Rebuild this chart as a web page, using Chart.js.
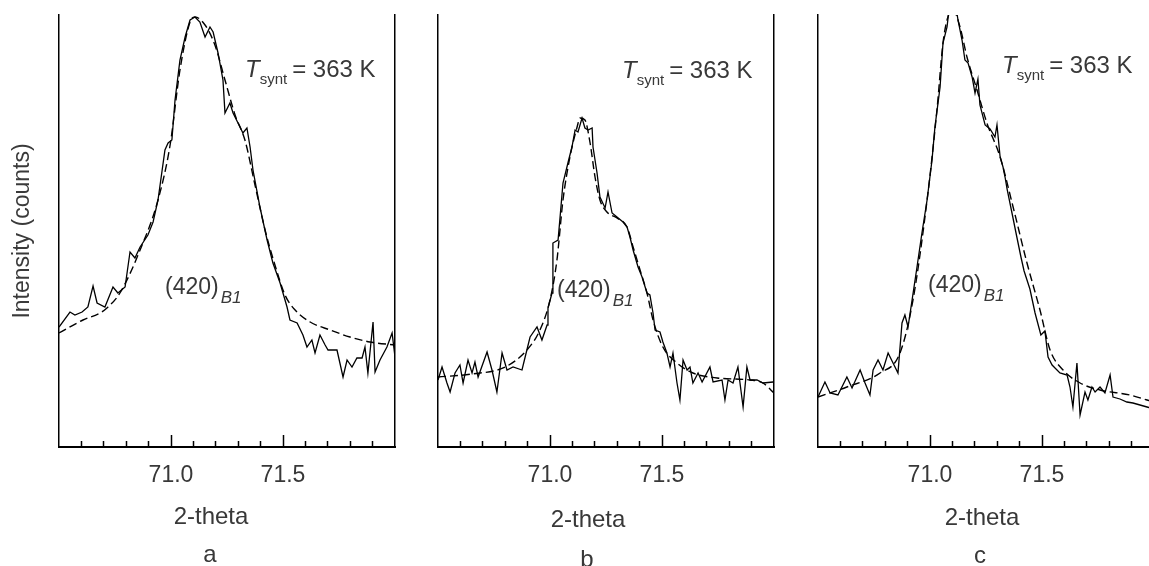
<!DOCTYPE html>
<html>
<head>
<meta charset="utf-8">
<script src="https://cdn.jsdelivr.net/npm/chart.js@4.4.1/dist/chart.umd.min.js"></script>
<style>
    html, body { margin: 0; padding: 0; background: #fff; }
    #wrap { position: relative; width: 1149px; height: 566px; overflow: hidden; }
    canvas { position: absolute; top: 0; }
    .lab {
        position: absolute;
        font-family: 'Liberation Sans', Arial, sans-serif;
        font-size: 24px;
        line-height: 24px;
        color: #383838;
        white-space: nowrap;
    }
    .sub { font-size: 15px; position: relative; top: 7px; margin-right: 5px; }
    .subi { font-size: 17px; font-style: italic; position: relative; top: 9px; margin-left: 2px; }
    .mid { transform: translateX(-50%); }
</style>
</head>
<body>
<div id="wrap">
    <canvas id="ctx_a" width="400" height="566" style="left:0px"></canvas>
    <canvas id="ctx_b" width="380" height="566" style="left:400px"></canvas>
    <canvas id="ctx_c" width="380" height="566" style="left:780px"></canvas>

    <div class="lab" style="left:245px; top:57px"><i>T</i><span class="sub">synt</span>= 363 K</div>
    <div class="lab" style="left:622px; top:58px"><i>T</i><span class="sub">synt</span>= 363 K</div>
    <div class="lab" style="left:1002px; top:53px"><i>T</i><span class="sub">synt</span>= 363 K</div>

    <div class="lab" style="left:165px; top:274px; font-size:23px">(420)<span class="subi">B1</span></div>
    <div class="lab" style="left:557px; top:277px; font-size:23px">(420)<span class="subi">B1</span></div>
    <div class="lab" style="left:928px; top:272px; font-size:23px">(420)<span class="subi">B1</span></div>

    <div class="lab mid" style="left:211px; top:504px">2-theta</div>
    <div class="lab mid" style="left:588px; top:507px">2-theta</div>
    <div class="lab mid" style="left:982px; top:505px">2-theta</div>

    <div class="lab mid" style="left:210px; top:542px">a</div>
    <div class="lab mid" style="left:587px; top:547px">b</div>
    <div class="lab mid" style="left:980px; top:543px">c</div>
</div>

<script>
// panel a - measured profile and fit
var aTheta = [70.500,70.549,70.571,70.603,70.629,70.652,70.670,70.705,70.741,70.763,70.795,70.817,70.839,70.862,70.897,70.920,70.942,70.973,70.987,71.004,71.018,71.040,71.063,71.085,71.107,71.129,71.152,71.174,71.188,71.210,71.232,71.241,71.263,71.277,71.308,71.321,71.339,71.353,71.366,71.397,71.429,71.455,71.487,71.518,71.531,71.563,71.589,71.607,71.629,71.643,71.665,71.688,71.701,71.741,71.754,71.768,71.786,71.808,71.830,71.853,71.866,71.879,71.902,71.911,71.933,71.964,71.987,72.000];
var aCounts = [120,135,132,135,140,161,144,140,160,154,160,195,189,200,212,225,247,297,304,307,347,387,410,427,430,425,410,420,415,394,367,334,344,334,320,314,319,300,277,240,207,184,164,140,127,124,112,100,107,94,112,102,97,97,84,70,87,80,89,89,100,74,125,75,87,100,114,90];
var aFitTheta = [70.500,70.607,70.683,70.714,70.772,70.862,70.942,70.996,71.040,71.085,71.107,71.152,71.196,71.241,71.286,71.330,71.375,71.420,71.464,71.509,71.554,71.621,71.710,71.799,71.888,72.000];
var aFit = [114,127,134,139,154,197,247,302,377,425,430,422,402,367,332,307,262,217,182,152,137,125,117,110,105,102];

// panel b
var bTheta = [70.500,70.518,70.540,70.554,70.576,70.598,70.612,70.634,70.652,70.665,70.679,70.719,70.741,70.763,70.786,70.808,70.835,70.875,70.888,70.911,70.942,70.964,70.987,70.991,71.009,71.013,71.036,71.045,71.058,71.080,71.098,71.112,71.125,71.143,71.156,71.170,71.188,71.192,71.210,71.223,71.246,71.259,71.277,71.299,71.326,71.344,71.357,71.371,71.393,71.411,71.433,71.446,71.460,71.469,71.491,71.504,71.522,71.536,71.549,71.567,71.580,71.594,71.612,71.625,71.638,71.661,71.679,71.714,71.728,71.768,71.781,71.795,71.817,71.839,71.862,71.879,71.893,71.924,71.951,71.996];
var bCounts = [67,80,64,55,74,82,64,87,74,85,70,95,77,55,94,77,80,77,89,110,120,107,122,139,154,204,207,230,264,284,300,317,315,329,319,317,319,300,274,250,239,255,234,230,225,220,210,197,180,170,154,152,134,117,115,105,94,80,94,64,47,87,77,80,64,74,65,80,65,67,47,67,64,80,40,80,67,67,64,65];
var bFitTheta = [70.500,70.652,70.800,70.897,70.955,71.000,71.031,71.058,71.089,71.121,71.134,71.156,71.179,71.201,71.223,71.254,71.299,71.344,71.371,71.402,71.433,71.460,71.504,71.567,71.638,71.746,71.893,71.951,72.000];
var bFit = [70,73,80,97,117,147,187,247,290,320,329,327,304,270,247,235,229,220,200,177,154,127,100,84,74,69,67,64,54];

// panel c
var cTheta = [70.500,70.531,70.554,70.589,70.629,70.652,70.688,70.710,70.732,70.746,70.768,70.790,70.813,70.835,70.857,70.875,70.888,70.902,70.920,70.942,70.964,70.987,71.009,71.022,71.045,71.058,71.076,71.089,71.112,71.125,71.143,71.156,71.170,71.188,71.201,71.214,71.223,71.246,71.268,71.290,71.299,71.313,71.326,71.335,71.344,71.366,71.384,71.406,71.420,71.446,71.469,71.495,71.513,71.527,71.545,71.580,71.612,71.625,71.638,71.656,71.670,71.692,71.705,71.723,71.737,71.759,71.781,71.804,71.817,71.848,71.879,71.906,71.969,72.000];
var cCounts = [50,65,54,52,70,59,77,64,52,77,87,77,94,84,74,124,132,120,147,180,214,247,287,320,360,404,420,445,445,427,407,387,384,370,354,368,342,322,318,310,322,290,280,270,258,234,214,190,176,158,134,112,116,90,82,74,72,60,40,84,32,55,47,60,55,60,54,72,50,48,45,44,40,38];
var cFitTheta = [70.500,70.629,70.777,70.866,70.924,70.987,71.031,71.058,71.080,71.103,71.134,71.165,71.210,71.254,71.313,71.371,71.433,71.491,71.536,71.594,71.670,71.759,71.893,71.969,72.000];
var cFit = [50,60,74,94,147,247,337,404,430,437,420,390,357,324,290,240,184,137,97,77,64,57,52,47,45];

var majorTicks = [71.0, 71.5];
var thetaMin = 70.5, thetaMax = 72.0;

Chart.defaults.font.family = "'Liberation Sans', Arial, sans-serif";

function to_points(xs, ys) {
    var n = Math.min(xs.length, ys.length);
    var out = [];
    for (var i = 0; i < n; i++) out.push({x: xs[i], y: ys[i]});
    return out;
}

function is_major(v) {
    return majorTicks.some(function (m) { return Math.abs(v - m) < 1e-6; });
}

function is_edge(v) {
    return Math.abs(v - thetaMin) < 1e-6 || Math.abs(v - thetaMax) < 1e-6;
}

function make_panel(id, obsX, obsY, fitX, fitY, yWidth, padRight, showTitle) {
    var ctx = document.getElementById(id).getContext('2d');
    return new Chart(ctx, {
        type: 'scatter',
        data: {
            datasets: [{
                data: to_points(fitX, fitY),
                showLine: true,
                borderColor: '#000',
                borderWidth: 1.4,
                borderDash: [8, 4],
                pointRadius: 0,
                cubicInterpolationMode: 'monotone',
            }, {
                data: to_points(obsX, obsY),
                showLine: true,
                borderColor: '#000',
                borderWidth: 1.3,
                pointRadius: 0,
                tension: 0,
            }]
        },
        options: {
            responsive: false,
            animation: false,
            events: [],
            layout: { padding: { top: 15, right: padRight, left: 0, bottom: 0 } },
            plugins: { legend: { display: false }, tooltip: { enabled: false } },
            scales: {
                x: {
                    type: 'linear',
                    position: 'bottom',
                    min: thetaMin,
                    max: thetaMax,
                    ticks: {
                        stepSize: 0.1,
                        autoSkip: false,
                        maxRotation: 0,
                        padding: 27,
                        color: '#383838',
                        font: { size: 23 },
                        callback: function (v) { return is_major(v) ? Number(v).toFixed(1) : ''; }
                    },
                    grid: {
                        drawOnChartArea: false,
                        drawTicks: true,
                        tickLength: -12,
                        tickWidth: 1.5,
                        tickColor: function (c) {
                            return (c.tick && is_edge(c.tick.value)) ? 'rgba(0,0,0,0)' : '#000';
                        },
                        // minor ticks only show the first 7px of the 12px mark
                        tickBorderDash: function (c) {
                            return (c.tick && is_major(c.tick.value)) ? [] : [7, 30];
                        }
                    },
                    border: { display: true, color: '#000', width: 2 },
                    afterFit: function (s) {
                        s.height = 119;
                        // tick padding would otherwise eat into the plot width
                        s.paddingLeft = 0;
                        s.paddingRight = 0;
                    }
                },
                y: {
                    position: 'left',
                    min: 0,
                    max: 432,
                    ticks: { display: false },
                    grid: { display: false },
                    border: { display: true, color: '#000', width: 1.5 },
                    title: {
                        display: showTitle,
                        text: 'Intensity (counts)',
                        color: '#3a3a3a',
                        font: { size: 23 },
                        padding: { top: 9, bottom: 0 }
                    },
                    afterFit: function (s) { s.width = yWidth; s.paddingTop = 0; s.paddingBottom = 0; }
                },
                yr: {
                    axis: 'y',
                    position: 'right',
                    min: 0,
                    max: 432,
                    ticks: { display: false },
                    grid: { display: false },
                    border: { display: true, color: '#000', width: 1.5 },
                    afterFit: function (s) { s.width = 0; s.paddingTop = 0; s.paddingBottom = 0; }
                }
            }
        }
    });
}

make_panel('ctx_a', aTheta, aCounts, aFitTheta, aFit, 59, 5, true);
make_panel('ctx_b', bTheta, bCounts, bFitTheta, bFit, 38, 6, false);
make_panel('ctx_c', cTheta, cCounts, cFitTheta, cFit, 38, 6, false);
</script>
</body>
</html>
